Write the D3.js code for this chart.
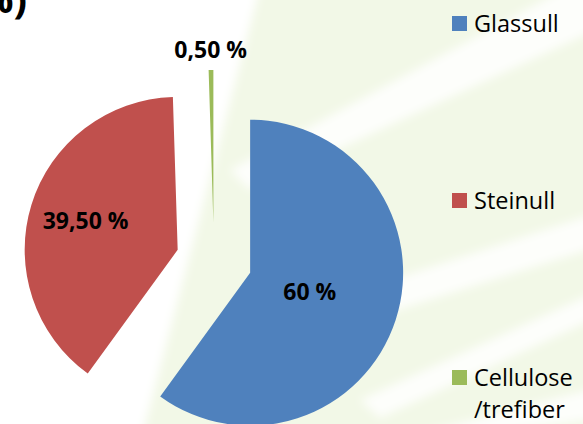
<!DOCTYPE html>
<html>
<head>
<meta charset="utf-8">
<script src="https://cdn.jsdelivr.net/npm/d3@7"></script>
<style>
  body { margin: 0; background: #fff; }
  svg { display: block; font-family: "Open Sans", sans-serif; }
</style>
</head>
<body>
<div id="my_dataviz"></div>
<script>
// data
const categories = ["Glassull", "Steinull", "Cellulose /trefiber"];
const shares = [60, 39.5, 0.5];
const shareLabels = ["60 %", "39,50 %", "0,50 %"];
const colors = ["#4f81bd", "#c0504d", "#9bbb59"];

// set the dimensions of the page
const width = 583,
  height = 424;

const svg = d3.select("#my_dataviz")
  .append("svg")
  .attr("width", width)
  .attr("height", height);

// background: pale green with soft white diagonal bands
const defs = svg.append("defs");
defs.append("filter")
  .attr("id", "soft")
  .attr("x", "-20%").attr("y", "-20%")
  .attr("width", "140%").attr("height", "140%")
  .append("feGaussianBlur")
  .attr("stdDeviation", 5);

svg.append("rect")
  .attr("width", width)
  .attr("height", height)
  .attr("fill", "#f2f8e7");

const bands = [
  [[-20, -20], [262, -20], [140, 444], [-20, 444]],
  [[230, 170], [600, -30], [600, 28], [250, 190]],
  [[330, 300], [600, 212], [600, 246], [340, 328]],
  [[360, 400], [600, 290], [600, 316], [380, 418]],
  [[380, 444], [600, 387], [600, 418], [420, 444]]
];
svg.append("g")
  .attr("filter", "url(#soft)")
  .selectAll("path")
  .data(bands)
  .join("path")
  .attr("d", d => "M" + d.join("L") + "Z")
  .attr("fill", "#fff")
  .attr("fill-opacity", (d, i) => i === 0 ? 1 : 0.85);

// cut-off title at the top
svg.append("text")
  .attr("x", 27)
  .attr("y", 13)
  .attr("text-anchor", "end")
  .style("font-size", "40px")
  .style("font-weight", "bold")
  .attr("fill", "#000")
  .text("(%)");

// pie
const cx = 214, cy = 261, radius = 153, explode = 38;
const labelR = [0.41, 0.63, 1.13];

const pie = d3.pie().sort(null).value(d => d)(shares);
const arc = d3.arc().innerRadius(0).outerRadius(radius);

const slices = svg.append("g")
  .attr("transform", `translate(${cx}, ${cy})`)
  .selectAll("g")
  .data(pie)
  .join("g")
  .attr("transform", d => {
    const a = (d.startAngle + d.endAngle) / 2;
    return `translate(${Math.sin(a) * explode}, ${-Math.cos(a) * explode})`;
  });

slices.append("path")
  .attr("d", arc)
  .attr("fill", (d, i) => colors[i]);

slices.append("text")
  .attr("x", (d, i) => Math.sin((d.startAngle + d.endAngle) / 2) * radius * labelR[i])
  .attr("y", (d, i) => -Math.cos((d.startAngle + d.endAngle) / 2) * radius * labelR[i] + 8)
  .attr("text-anchor", "middle")
  .style("font-size", "23px")
  .style("font-weight", "bold")
  .attr("fill", "#000")
  .text((d, i) => shareLabels[i]);

// legend
const legend = svg.append("g")
  .selectAll("g")
  .data(categories)
  .join("g")
  .attr("transform", (d, i) => `translate(452, ${16 + i * 177})`);

legend.append("rect")
  .attr("width", 15)
  .attr("height", 15)
  .attr("fill", (d, i) => colors[i]);

legend.append("text")
  .attr("x", 22)
  .attr("y", 16)
  .style("font-size", "23.5px")
  .attr("fill", "#000")
  .selectAll("tspan")
  .data(d => d.split(" "))
  .join("tspan")
  .attr("x", 22)
  .attr("dy", (d, i) => i === 0 ? 0 : 32)
  .text(d => d);
</script>
</body>
</html>
